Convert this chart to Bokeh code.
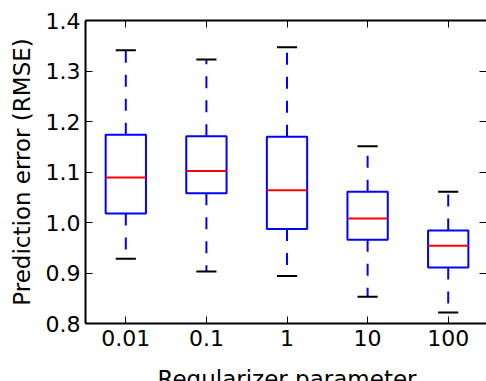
from bokeh.plotting import figure
from bokeh.models import (Range1d, FixedTicker, LinearAxis, PrintfTickFormatter,
                          ColumnDataSource, Label)
from bokeh.embed import file_html
from bokeh.resources import INLINE

# ---- data ----
categories = ["0.01", "0.1", "1", "10", "100"]
positions = [1, 2, 3, 4, 5]
whisker_hi = [1.341, 1.323, 1.347, 1.151, 1.061]
q3 = [1.174, 1.171, 1.170, 1.061, 0.984]
median = [1.089, 1.102, 1.064, 1.008, 0.954]
q1 = [1.018, 1.058, 0.987, 0.966, 0.911]
whisker_lo = [0.928, 0.903, 0.894, 0.853, 0.822]
y_ticks = [0.8, 0.9, 1.0, 1.1, 1.2, 1.3, 1.4]

box_w = 0.5
cap_w = 0.25

src = ColumnDataSource(dict(
    x=positions,
    left=[p - box_w / 2 for p in positions],
    right=[p + box_w / 2 for p in positions],
    cl=[p - cap_w / 2 for p in positions],
    cr=[p + cap_w / 2 for p in positions],
    hi=whisker_hi, q3=q3, med=median, q1=q1, lo=whisker_lo,
))

FONT = "DejaVu Sans"

p = figure(width=486, height=381, output_backend="svg", toolbar_location=None,
           x_range=Range1d(0.5, 5.475), y_range=Range1d(0.8, 1.4),
           min_border_left=85, min_border_right=0, min_border_top=20,
           min_border_bottom=58)
p.outline_line_color = None
p.xgrid.visible = False
p.ygrid.visible = False
p.background_fill_color = "white"
p.border_fill_color = "white"

# whiskers (dashed)
p.segment(x0="x", y0="q3", x1="x", y1="hi", source=src, line_color="blue",
          line_width=2, line_dash="12 12")
p.segment(x0="x", y0="q1", x1="x", y1="lo", source=src, line_color="blue",
          line_width=2, line_dash="12 12")
# caps
p.segment(x0="cl", y0="hi", x1="cr", y1="hi", source=src, line_color="black", line_width=2)
p.segment(x0="cl", y0="lo", x1="cr", y1="lo", source=src, line_color="black", line_width=2)
# boxes
p.quad(left="left", right="right", top="q3", bottom="q1", source=src,
       fill_color=None, line_color="blue", line_width=2)
# medians
p.segment(x0="left", y0="med", x1="right", y1="med", source=src, line_color="red", line_width=2)

def style_axis(ax, labels=True):
    ax.axis_line_width = 2
    ax.axis_line_color = "black"
    ax.major_tick_in = 7
    ax.major_tick_out = 0
    ax.major_tick_line_color = "black"
    ax.major_tick_line_width = 1
    ax.minor_tick_line_color = None
    if labels:
        ax.major_label_text_font = FONT
        ax.major_label_text_font_size = "22px"
        ax.major_label_text_color = "black"
    else:
        ax.major_label_text_font_size = "1px"
        ax.major_label_text_color = None
        ax.major_label_standoff = 0

xt = FixedTicker(ticks=positions)
yt = FixedTicker(ticks=y_ticks)

p.xaxis.ticker = xt
p.xaxis.major_label_overrides = {pos: c for pos, c in zip(positions, categories)}
style_axis(p.xaxis[0])
p.xaxis.major_label_standoff = 6

p.yaxis.ticker = yt
p.yaxis.formatter = PrintfTickFormatter(format="%.1f")
style_axis(p.yaxis[0])
p.yaxis.major_label_standoff = 5
p.yaxis.axis_label = "Prediction error (RMSE)"
p.yaxis.axis_label_text_font = FONT
p.yaxis.axis_label_text_font_size = "23px"
p.yaxis.axis_label_text_font_style = "normal"
p.yaxis.axis_label_text_color = "black"
p.yaxis.axis_label_standoff = 8

top_ax = LinearAxis(ticker=xt)
style_axis(top_ax, labels=False)
p.add_layout(top_ax, "above")

right_ax = LinearAxis(ticker=yt)
style_axis(right_ax, labels=False)
right_ax.axis_line_color = None
p.add_layout(right_ax, "right")

xlabel = Label(x=sum(positions) / len(positions), y=9, x_units="data", y_units="screen",
               text="Regularizer parameter", text_align="center", text_baseline="top",
               text_font=FONT, text_font_size="23px", text_color="black")
p.add_layout(xlabel, "below")

open("out.html", "w").write(file_html(p, INLINE))
